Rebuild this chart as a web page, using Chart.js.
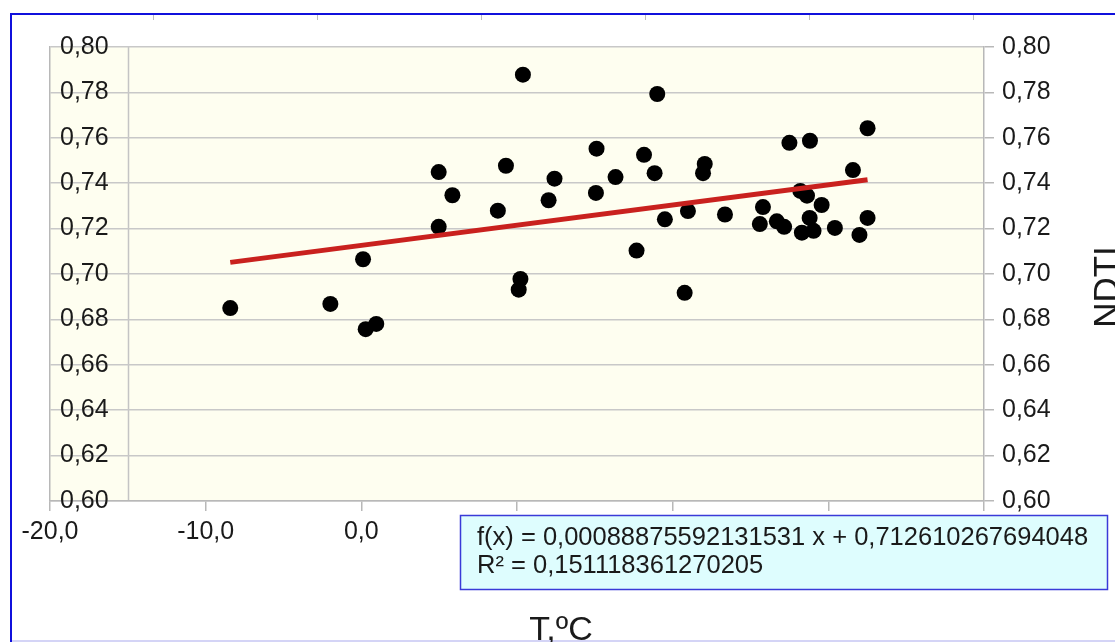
<!DOCTYPE html>
<html>
<head>
<meta charset="utf-8">
<script src="https://cdn.jsdelivr.net/npm/chart.js@4/dist/chart.umd.min.js"></script>
<style>
  html, body { margin: 0; padding: 0; background: #fff; }
  #wrap { width: 1115px; height: 642px; position: relative; }
</style>
</head>
<body>
<div id="wrap"><canvas id="chart" width="1115" height="642"></canvas></div>
<script>
// temperature (x) and NDTI (y)
const tempC = [-8.42, -1.99, 0.11, 0.28, 0.96, 4.97, 4.97, 5.85, 8.77, 9.29,
  10.11, 10.22, 10.38, 12.03, 12.41, 15.07, 15.11, 16.33, 17.68, 18.16,
  18.84, 19.01, 19.50, 20.77, 20.98, 21.95, 22.06, 23.36, 25.60, 25.80,
  26.69, 27.16, 27.50, 28.20, 28.30, 28.63, 28.82, 28.80, 29.05, 29.57,
  30.42, 31.58, 32.00, 32.52, 32.52];
const ndti = [0.6850, 0.6868, 0.7065, 0.6757, 0.6780, 0.7449, 0.7208, 0.7347, 0.7279, 0.7477,
  0.6931, 0.6978, 0.7878, 0.7325, 0.7420, 0.7357, 0.7552, 0.7427, 0.7103, 0.7525,
  0.7444, 0.7793, 0.7241, 0.6917, 0.7277, 0.7444, 0.7485, 0.7262, 0.7220, 0.7295,
  0.7232, 0.7208, 0.7578, 0.7366, 0.7182, 0.7345, 0.7587, 0.7247, 0.7190, 0.7304,
  0.7203, 0.7458, 0.7172, 0.7642, 0.7247];

// linear trend line as printed in the box
const SLOPE = 0.00088875592131531;
const INTERCEPT = 0.712610267694048;
const eqLines = ['f(x) = 0,00088875592131531 x + 0,712610267694048', 'R² = 0,151118361270205'];

const X_MIN = -20, X_MAX = 40, X_STEP = 10;
const Y_MIN = 0.6, Y_MAX = 0.8, Y_STEP = 0.02;
const xTitle = 'T,ºC';
const yTitle = 'NDTI';

const FONT = "'Liberation Sans', Arial, sans-serif";
Chart.defaults.font.family = FONT;

const fmt = (v, d) => Number(v).toFixed(d).replace('.', ',');
const points = tempC.map((t, i) => ({ x: t, y: ndti[i] }));
const tMin = Math.min(...tempC), tMax = Math.max(...tempC);
const trend = [tMin, tMax].map(t => ({ x: t, y: SLOPE * t + INTERCEPT }));

const decor = {
  id: 'decor',
  beforeDraw(chart) {
    const { ctx, chartArea: a, scales } = chart;
    ctx.save();
    ctx.fillStyle = '#fefef0';
    ctx.fillRect(a.left, a.top, a.right - a.left, a.bottom - a.top);
    // extra vertical line at -15
    const px = Math.round(scales.x.getPixelForValue(-15)) + 0.5;
    ctx.strokeStyle = '#c4c4c4';
    ctx.lineWidth = 1.5;
    ctx.beginPath(); ctx.moveTo(px, a.top); ctx.lineTo(px, a.bottom); ctx.stroke();
    // page frame
    ctx.fillStyle = '#1010dc';
    ctx.fillRect(10, 13, 2, 629);
    ctx.fillRect(10, 13, 1105, 2);
    ctx.fillStyle = '#d4d4f6';
    ctx.fillRect(12, 640, 1103, 2);
    ctx.strokeStyle = '#bdbdbd';
    ctx.lineWidth = 1;
    for (let tx = 153; tx < 1115; tx += 164) {
      ctx.beginPath(); ctx.moveTo(tx + 0.5, 15); ctx.lineTo(tx + 0.5, 20); ctx.stroke();
    }
    ctx.restore();
  },
  afterDraw(chart) {
    const { ctx } = chart;
    ctx.save();
    // equation box
    ctx.fillStyle = '#defdfe';
    ctx.fillRect(460, 515, 648, 75);
    ctx.strokeStyle = '#3a3ad8';
    ctx.lineWidth = 1.5;
    ctx.strokeRect(460.5, 515.5, 647, 74);
    ctx.fillStyle = '#1a1a1a';
    ctx.font = '25.5px ' + FONT;
    ctx.textBaseline = 'middle';
    ctx.textAlign = 'left';
    eqLines.forEach((l, i) => ctx.fillText(l, 477, 538 + i * 28));
    // axis titles
    ctx.font = '34px ' + FONT;
    ctx.textAlign = 'center';
    ctx.textBaseline = 'alphabetic';
    ctx.fillText(xTitle, 561, 640);
    ctx.translate(1118, 287);
    ctx.rotate(-Math.PI / 2);
    ctx.font = '35px ' + FONT;
    ctx.fillText(yTitle, 0, 0);
    ctx.restore();
  }
};

new Chart(document.getElementById('chart'), {
  type: 'scatter',
  data: {
    datasets: [
      { type: 'line', label: 'trend', data: trend, borderColor: '#c9211e', borderWidth: 5,
        pointRadius: 0, fill: false, tension: 0, yAxisID: 'y' },
      { label: 'NDTI', data: points, backgroundColor: '#000', borderWidth: 0,
        pointRadius: 8, pointHoverRadius: 8, yAxisID: 'y' }
    ]
  },
  options: {
    responsive: false,
    animation: false,
    devicePixelRatio: 1,
    layout: { padding: { left: 50, top: 47, right: 0, bottom: 0 } },
    plugins: { legend: { display: false }, tooltip: { enabled: false } },
    scales: {
      x: {
        type: 'linear', min: X_MIN, max: X_MAX,
        ticks: { stepSize: X_STEP, callback: v => fmt(v, 1), font: { size: 25 }, color: '#1a1a1a', padding: 6, maxRotation: 0 },
        grid: { drawOnChartArea: false, tickLength: 10, color: '#b8b8b8', lineWidth: 1.5 },
        border: { color: '#b8b8b8', width: 1.5 },
        afterFit: s => { s.height = 141; }
      },
      y: {
        position: 'left', min: Y_MIN, max: Y_MAX,
        ticks: { stepSize: Y_STEP, mirror: true, padding: 10, callback: v => fmt(v, 2), font: { size: 25 }, color: '#1a1a1a' },
        grid: { color: '#c8c8c8', lineWidth: 1.5, drawTicks: false },
        border: { color: '#b8b8b8', width: 1.5 },
        afterFit: s => { s.width = 0; }
      },
      y2: {
        position: 'right', min: Y_MIN, max: Y_MAX,
        ticks: { stepSize: Y_STEP, padding: 8, callback: v => fmt(v, 2), font: { size: 25 }, color: '#1a1a1a' },
        grid: { drawOnChartArea: false, tickLength: 10, color: '#b8b8b8', lineWidth: 1.5 },
        border: { color: '#b8b8b8', width: 1.5 },
        afterFit: s => { s.width = 131; }
      }
    }
  },
  plugins: [decor]
});
</script>
</body>
</html>
